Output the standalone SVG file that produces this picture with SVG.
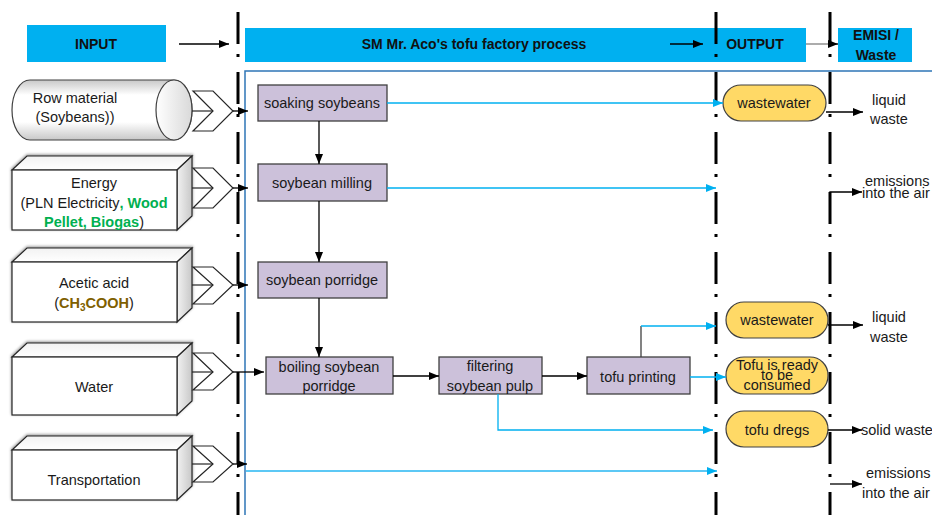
<svg xmlns="http://www.w3.org/2000/svg" width="932" height="515" viewBox="0 0 932 515">
<defs>
  <marker id="ak" markerUnits="userSpaceOnUse" markerWidth="11" markerHeight="8" refX="10" refY="4" orient="auto">
    <path d="M0,0 L10,4 L0,8 Z" fill="#000"/>
  </marker>
  <marker id="ab" markerUnits="userSpaceOnUse" markerWidth="11" markerHeight="8" refX="10" refY="4" orient="auto">
    <path d="M0,0 L10,4 L0,8 Z" fill="#00B0F0"/>
  </marker>
  <linearGradient id="cyl" x1="0" y1="0" x2="0" y2="1">
    <stop offset="0" stop-color="#c8c8c8"/>
    <stop offset="0.25" stop-color="#ffffff"/>
    <stop offset="0.7" stop-color="#ffffff"/>
    <stop offset="1" stop-color="#c8c8c8"/>
  </linearGradient>
  <linearGradient id="cylend" x1="0" y1="0" x2="1" y2="0">
    <stop offset="0" stop-color="#ffffff"/>
    <stop offset="1" stop-color="#d9d9d9"/>
  </linearGradient>
  <linearGradient id="side" x1="0" y1="0" x2="1" y2="0">
    <stop offset="0" stop-color="#f2f2f2"/>
    <stop offset="1" stop-color="#c8c8c8"/>
  </linearGradient>
  <linearGradient id="topf" x1="0" y1="0" x2="0" y2="1">
    <stop offset="0" stop-color="#f2f2f2"/>
    <stop offset="1" stop-color="#ffffff"/>
  </linearGradient>
  <filter id="sh" x="-10%" y="-20%" width="120%" height="140%">
    <feGaussianBlur in="SourceAlpha" stdDeviation="1.8"/>
    <feOffset dx="0" dy="-1" result="b"/>
    <feComponentTransfer><feFuncA type="linear" slope="0.45"/></feComponentTransfer>
    <feMerge><feMergeNode/><feMergeNode in="SourceGraphic"/></feMerge>
  </filter>
</defs>
<style>
  text { font-family: "Liberation Sans", Arial, sans-serif; font-size: 14.5px; fill: #1a1a1a; }
  .ht { font-weight: bold; font-size: 14px; text-anchor: middle; fill: #111; }
  .c { text-anchor: middle; }
  .hdr { fill: #00B0F0; }
  .proc { fill: #CCC1DA; stroke: #404040; stroke-width: 1.3; }
  .pill { fill: #FFD966; stroke: #404040; stroke-width: 1.2; }
  .lane { stroke: #000; stroke-width: 3; stroke-dasharray: 32 10 3 15; fill: none; }
  .k { stroke: #000; stroke-width: 1.3; fill: none; marker-end: url(#ak); }
  .kn { stroke: #262626; stroke-width: 1.2; fill: none; }
  .b { stroke: #00B0F0; stroke-width: 1.3; fill: none; marker-end: url(#ab); }
  .bn { stroke: #00B0F0; stroke-width: 1.3; fill: none; }
  .chev { fill: #fff; stroke: #262626; stroke-width: 1.2; }
  .front { fill: #fff; stroke: #262626; stroke-width: 1.2; }
  .topf { fill: url(#topf); stroke: #262626; stroke-width: 1.2; }
  .sidef { fill: url(#side); stroke: #262626; stroke-width: 1.2; }
  .g { fill: #00B050; font-weight: bold; }
  .br { fill: #7F6000; font-weight: bold; }
</style>
<rect width="932" height="515" fill="#fff"/>

<!-- headers -->
<g id="hdr-input"><rect class="hdr" x="27" y="25" width="139" height="37"/><text class="ht" x="96" y="49">INPUT</text></g>
<g id="hdr-process"><rect class="hdr" x="245" y="28" width="561" height="34"/><text class="ht" x="474" y="49">SM Mr. Aco's tofu factory process</text><text class="ht" x="755" y="49">OUTPUT</text></g>
<g id="hdr-emisi"><rect class="hdr" x="838" y="28" width="74" height="34"/><text class="ht" x="876" y="40">EMISI /</text><text class="ht" x="876" y="60">Waste</text></g>

<!-- frame -->
<path d="M932,71 H245 V515" fill="none" stroke="#2E75B6" stroke-width="1.5"/>

<!-- lanes -->
<g id="lanes">
  <line class="lane" x1="238" y1="12" x2="238" y2="515"/>
  <line class="lane" x1="716" y1="12" x2="716" y2="515"/>
  <line class="lane" x1="830" y1="12" x2="830" y2="515"/>
</g>

<!-- inputs -->
<g id="in-raw">
  <path d="M30,80 H174 A18,30 0 0 1 174,140 H30 A18,30 0 0 1 30,80 Z" fill="url(#cyl)" stroke="#404040" stroke-width="1.2"/>
  <ellipse cx="174" cy="110" rx="18" ry="30" fill="url(#cylend)" stroke="#404040" stroke-width="1.2"/>
  <text class="c" x="75" y="103">Row material</text>
  <text class="c" x="75" y="122">(Soybeans))</text>
  <polygon class="chev" points="193,91 213,91 233,111 213,131 193,131 213,111"/>
</g>
<g id="in-energy">
  <g filter="url(#sh)">
    <polygon class="topf" points="12,170 27,156 192,156 177,170"/>
    <polygon class="sidef" points="177,170 192,156 192,216 177,230"/>
    <rect class="front" x="12" y="170" width="165" height="60"/>
  </g>
  <text class="c" x="94" y="188">Energy</text>
  <text class="c" x="94" y="208">(PLN Electricity<tspan class="g">, Wood</tspan></text>
  <text class="c" x="94" y="227"><tspan class="g">Pellet, Biogas</tspan>)</text>
  <polygon class="chev" points="193,168 213,168 233,188 213,208 193,208 213,188"/>
</g>
<g id="in-acid">
  <g filter="url(#sh)">
    <polygon class="topf" points="12,262 27,248 192,248 177,262"/>
    <polygon class="sidef" points="177,262 192,248 192,308 177,322"/>
    <rect class="front" x="12" y="262" width="165" height="60"/>
  </g>
  <text class="c" x="94" y="288">Acetic acid</text>
  <text class="c" x="94" y="308">(<tspan class="br">CH</tspan><tspan class="br" font-size="10" dy="3">3</tspan><tspan class="br" dy="-3">COOH</tspan>)</text>
  <polygon class="chev" points="193,267 213,267 233,285 213,304 193,304 213,285"/>
</g>
<g id="in-water">
  <g filter="url(#sh)">
    <polygon class="topf" points="12,357 27,343 192,343 177,357"/>
    <polygon class="sidef" points="177,357 192,343 192,401 177,415"/>
    <rect class="front" x="12" y="357" width="165" height="58"/>
  </g>
  <text class="c" x="94" y="392">Water</text>
  <polygon class="chev" points="193,353 213,353 233,372 213,390 193,390 213,372"/>
</g>
<g id="in-transport">
  <g filter="url(#sh)">
    <polygon class="topf" points="12,450 27,436 192,436 177,450"/>
    <polygon class="sidef" points="177,450 192,436 192,486 177,500"/>
    <rect class="front" x="12" y="450" width="165" height="50"/>
  </g>
  <text class="c" x="94" y="485">Transportation</text>
  <polygon class="chev" points="193,446 213,446 233,464 213,482 193,482 213,464"/>
</g>

<!-- process -->
<g id="p-soak"><rect class="proc" x="258" y="85" width="129" height="36"/><text class="c" x="322" y="108">soaking soybeans</text></g>
<g id="p-mill"><rect class="proc" x="258" y="164" width="129" height="37"/><text class="c" x="322" y="188">soybean milling</text></g>
<g id="p-porridge"><rect class="proc" x="258" y="262" width="129" height="36"/><text class="c" x="322" y="285">soybean porridge</text></g>
<g id="p-boil"><rect class="proc" x="266" y="357" width="127" height="37"/><text class="c" x="329" y="372">boiling soybean</text><text class="c" x="329" y="391">porridge</text></g>
<g id="p-filter"><rect class="proc" x="439" y="357" width="103" height="37"/><text class="c" x="490" y="371">filtering</text><text class="c" x="490" y="391">soybean pulp</text></g>
<g id="p-print"><rect class="proc" x="587" y="357" width="103" height="37"/><text class="c" x="638" y="382">tofu printing</text></g>

<!-- outputs -->
<g id="o-ww1"><rect class="pill" x="723" y="85" width="103" height="36" rx="18"/><text class="c" x="774" y="108">wastewater</text></g>
<g id="o-ww2"><rect class="pill" x="726" y="302" width="102" height="36" rx="18"/><text class="c" x="777" y="325">wastewater</text></g>
<g id="o-tofu"><rect class="pill" x="726" y="357" width="102" height="37" rx="18"/><text class="c" x="777" y="370">Tofu is ready</text><text class="c" x="777" y="380">to be</text><text class="c" x="777" y="389.5">consumed</text></g>
<g id="o-dregs"><rect class="pill" x="726" y="411" width="102" height="36" rx="18"/><text class="c" x="777" y="435">tofu dregs</text></g>

<!-- waste labels -->
<g id="w-liquid1"><text class="c" x="889" y="105">liquid</text><text class="c" x="889" y="124">waste</text></g>
<g id="w-air1"><text x="865" y="186">emissions</text><text x="862" y="198">into the air</text></g>
<g id="w-liquid2"><text class="c" x="889" y="322">liquid</text><text class="c" x="889" y="342">waste</text></g>
<g id="w-solid"><text x="861" y="435">solid waste</text></g>
<g id="w-air2"><text x="866" y="478">emissions</text><text x="862" y="498">into the air</text></g>

<!-- connectors -->
<g id="connectors">
  <line class="k" x1="179" y1="44" x2="229" y2="44"/>
  <line class="k" x1="670" y1="44" x2="703" y2="44"/>
  <line x1="806" y1="44" x2="830" y2="44" stroke="#7f7f7f" stroke-width="1.3"/>
  <line class="k" x1="828" y1="44" x2="838" y2="44"/>

  <line class="kn" x1="192" y1="111" x2="213" y2="111"/>
  <line class="k" x1="233" y1="111" x2="248" y2="111"/>
  <line class="kn" x1="192" y1="188" x2="213" y2="188"/>
  <line class="k" x1="233" y1="188" x2="248" y2="188"/>
  <line class="kn" x1="192" y1="285" x2="213" y2="285"/>
  <line class="k" x1="233" y1="285" x2="248" y2="285"/>
  <line class="kn" x1="192" y1="372" x2="213" y2="372"/>
  <line class="k" x1="233" y1="372" x2="264" y2="372"/>
  <line class="kn" x1="192" y1="464" x2="213" y2="464"/>
  <line class="k" x1="233" y1="464" x2="247" y2="464"/>

  <line class="k" x1="319" y1="121" x2="319" y2="164"/>
  <line class="k" x1="319" y1="201" x2="319" y2="262"/>
  <line class="k" x1="319" y1="298" x2="319" y2="357"/>
  <line class="k" x1="393" y1="376" x2="439" y2="376"/>
  <line class="k" x1="542" y1="376" x2="587" y2="376"/>

  <line class="b" x1="387" y1="103" x2="723" y2="103"/>
  <line class="b" x1="387" y1="188" x2="716" y2="188"/>
  <line x1="641" y1="357" x2="641" y2="326" stroke="#404040" stroke-width="1.3"/>
  <line class="b" x1="641" y1="326" x2="716" y2="326"/>
  <line class="b" x1="690" y1="377" x2="726" y2="377"/>
  <polyline class="b" points="498,394 498,430 713,430"/>
  <line x1="246" y1="471" x2="717" y2="471" stroke="#5CC8F5" stroke-width="2" marker-end="url(#ab)"/>

  <line class="k" x1="826" y1="112" x2="863" y2="112"/>
  <polyline class="k" points="830,196 830,192 862,192"/>
  <line class="k" x1="828" y1="325" x2="863" y2="325"/>
  <line class="k" x1="828" y1="430" x2="862" y2="430"/>
  <line class="k" x1="830" y1="484" x2="862" y2="484"/>
</g>
</svg>
